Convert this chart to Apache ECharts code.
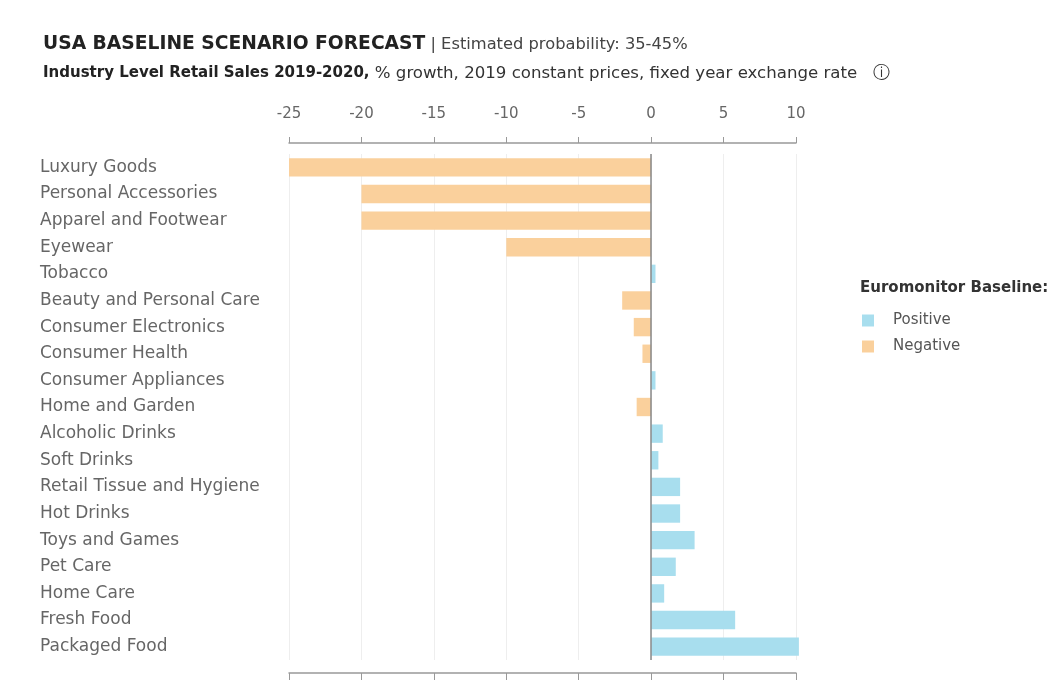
<!DOCTYPE html>
<html><head><meta charset="utf-8">
<script src="https://cdn.jsdelivr.net/npm/echarts@6/dist/echarts.min.js"></script>
<style>html,body{margin:0;padding:0;background:#fff}#c{width:1051px;height:685px}</style>
</head><body><div id="c"></div>
<script>
const categories = ["Luxury Goods","Personal Accessories","Apparel and Footwear","Eyewear","Tobacco","Beauty and Personal Care","Consumer Electronics","Consumer Health","Consumer Appliances","Home and Garden","Alcoholic Drinks","Soft Drinks","Retail Tissue and Hygiene","Hot Drinks","Toys and Games","Pet Care","Home Care","Fresh Food","Packaged Food"];
const values = [-25,-20,-20,-10,0.3,-2.0,-1.2,-0.6,0.3,-1.0,0.8,0.5,2.0,2.0,3.0,1.7,0.9,5.8,10.2];
const xTicks = {min:-25, max:10, interval:5};
const positive = values.map(v => v > 0 ? v : '-');
const negative = values.map(v => v < 0 ? v : '-');
const ORANGE = '#FAD09C', BLUE = '#A8DEEE';
const FONT = 'DejaVu Sans';
const TFONT = 'DejaVu Sans';
const chart = echarts.init(document.getElementById('c'));
chart.setOption({
  animation:false,
  textStyle:{fontFamily:FONT},
  title:[{
    left:38, top:30,
    text:'{a|USA BASELINE SCENARIO FORECAST}{b| | Estimated probability: 35-45%}',
    textStyle:{fontWeight:'normal',rich:{
      a:{fontFamily:TFONT,fontWeight:'bold',fontSize:18.7,color:'#222'},
      b:{fontFamily:TFONT,fontWeight:'normal',fontSize:16.3,color:'#444'}
    }}
  },{
    left:38, top:60,
    text:'{a|Industry Level Retail Sales 2019-2020,}{b| % growth, 2019 constant prices, fixed year exchange rate   ⓘ}',
    textStyle:{fontWeight:'normal',rich:{
      a:{fontFamily:TFONT,fontWeight:'bold',fontSize:15,color:'#222'},
      b:{fontFamily:TFONT,fontWeight:'normal',fontSize:16.6,color:'#333'}
    }}
  },{
    left:855, top:276,
    text:'Euromonitor Baseline:',
    textStyle:{fontFamily:FONT,fontWeight:'bold',fontSize:15,color:'#333'}
  }],
  legend:{
    orient:'vertical', left:857, top:308, itemWidth:12, itemHeight:12, itemGap:11,
    icon:'rect',
    textStyle:{fontFamily:FONT,fontSize:15,color:'#555',padding:[0,0,0,14]},
    data:['Positive','Negative']
  },
  grid:{left:289, right:255, top:154, bottom:25},
  xAxis:[{
    type:'value', position:'top', min:xTicks.min, max:xTicks.max, interval:xTicks.interval,
    offset:11,
    axisLine:{show:true,lineStyle:{color:'#999',width:1.5}},
    axisTick:{show:true,length:6,lineStyle:{color:'#999'}},
    axisLabel:{margin:21,fontFamily:FONT,fontSize:15,color:'#666'},
    splitLine:{show:true,lineStyle:{color:'#eeeeee'}}
  },{
    type:'value', position:'bottom', min:xTicks.min, max:xTicks.max, interval:xTicks.interval,
    offset:13,
    axisLine:{show:true,lineStyle:{color:'#999',width:1.5}},
    axisTick:{show:true,length:7,lineStyle:{color:'#999'}},
    axisLabel:{show:false},
    splitLine:{show:false}
  }],
  yAxis:{
    type:'category', data:categories, inverse:true,
    axisLine:{show:false}, axisTick:{show:false},
    axisLabel:{align:'left',margin:249,fontFamily:FONT,fontSize:17,color:'#666'}
  },
  series:[{
    name:'Positive', type:'bar', data:positive, barWidth:'69%', barGap:'-100%',
    itemStyle:{color:BLUE}, clip:false,
    markLine:{silent:true,symbol:'none',label:{show:false},
      lineStyle:{color:'#888',type:'solid',width:1.5},data:[{xAxis:0}]}
  },{
    name:'Negative', type:'bar', data:negative, barWidth:'69%', barGap:'-100%',
    itemStyle:{color:ORANGE}, clip:false
  }]
});
</script></body></html>
